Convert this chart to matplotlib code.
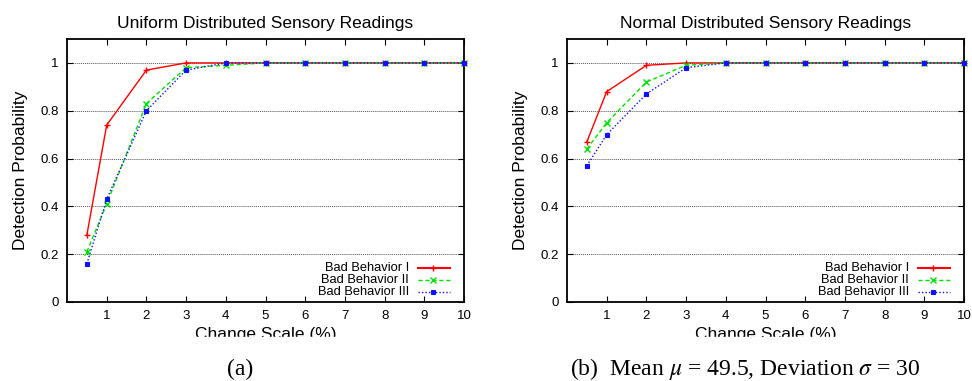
import matplotlib
matplotlib.use('Agg')
import matplotlib.pyplot as plt
from matplotlib.patches import Rectangle

plt.rcParams['font.family'] = ['Liberation Sans', 'DejaVu Sans']
plt.rcParams['mathtext.fontset'] = 'stix'

scale = [0.5, 1, 2, 3, 4, 5, 6, 7, 8, 9, 10]
labels = ['Bad Behavior I', 'Bad Behavior II', 'Bad Behavior III']

uniform_1 = [0.28, 0.74, 0.97, 1.0, 1.0, 1.0, 1.0, 1.0, 1.0, 1.0, 1.0]
uniform_2 = [0.21, 0.41, 0.83, 0.98, 0.99, 1.0, 1.0, 1.0, 1.0, 1.0, 1.0]
uniform_3 = [0.16, 0.43, 0.80, 0.97, 1.0, 1.0, 1.0, 1.0, 1.0, 1.0, 1.0]

normal_1 = [0.67, 0.88, 0.99, 1.0, 1.0, 1.0, 1.0, 1.0, 1.0, 1.0, 1.0]
normal_2 = [0.64, 0.75, 0.92, 0.99, 1.0, 1.0, 1.0, 1.0, 1.0, 1.0, 1.0]
normal_3 = [0.57, 0.70, 0.87, 0.98, 1.0, 1.0, 1.0, 1.0, 1.0, 1.0, 1.0]

styles = [
    dict(color='#ff0000', ls='-', marker='+', ms=5, mew=1.0),
    dict(color='#00e000', ls=(0, (3, 2)), marker='x', ms=4, mew=1.0),
    dict(color='#1010ff', ls=(0, (1, 1.5)), marker='s', ms=3.5, mew=0.8),
]

fig = plt.figure(figsize=(9.72, 3.81), dpi=100)
W, H = 972, 381


def setup(left, series, title, caption, cap_x):
    ax = fig.add_axes([left / W, (H - 302) / H, 397 / W, 263 / H])
    for ys, st in zip(series, styles):
        ax.plot(scale, ys, lw=1.0, **st, clip_on=False, zorder=3)
    ax.set_xlim(0, 10)
    ax.set_ylim(0, 1.1)
    ax.set_xticks(range(1, 11))
    ax.set_yticks([0, 0.2, 0.4, 0.6, 0.8, 1])
    ax.set_yticklabels(['0', '0.2', '0.4', '0.6', '0.8', '1'])
    ax.tick_params(direction='in', top=True, right=True, labelsize=9.5,
                   length=4, width=0.8, pad=6)
    for yv in [0.2, 0.4, 0.6, 0.8, 1.0]:
        ax.axhline(yv, color='#555555', lw=0.7, ls=(0, (1, 1)), zorder=1)
    for s in ax.spines.values():
        s.set_linewidth(1.3)
    ax.set_title(title, fontsize=12.5, pad=8)
    ax.set_xlabel('Change Scale (%)', fontsize=12.5, labelpad=3)
    ax.set_ylabel('Detection Probability', fontsize=12.5, labelpad=9)

    # legend, text right aligned left of the sample line
    rows = [0.129, 0.084, 0.038]
    for lab, st, ry in zip(labels, styles, rows):
        ax.text(0.861, ry, lab, transform=ax.transAxes, ha='right',
                va='center', fontsize=9.3)
        ax.plot([0.884, 0.965], [ry, ry], transform=ax.transAxes,
                color=st['color'], ls=st['ls'], lw=1.5 if st['ls'] == '-' else 1.0)
        ax.plot([0.922], [ry], transform=ax.transAxes, color=st['color'],
                marker=st['marker'], ms=st['ms'], mew=st['mew'], ls='none')

    fig.text(cap_x / W, (H - 369) / H, caption, ha='center', va='center',
             fontsize=17, family='Liberation Serif')
    return ax


setup(67, [uniform_1, uniform_2, uniform_3],
      'Uniform Distributed Sensory Readings', '(a)', 240)
setup(567, [normal_1, normal_2, normal_3],
      'Normal Distributed Sensory Readings',
      r'(b)  Mean $\mu$ = 49.5, Deviation $\sigma$ = 30', 745)

# x labels are cut off at the bottom in the original figure
fig.add_artist(Rectangle((0, (H - 348) / H), 1, 11 / H,
                         transform=fig.transFigure, color='white', zorder=10))

fig.savefig('out.png', dpi=100)
